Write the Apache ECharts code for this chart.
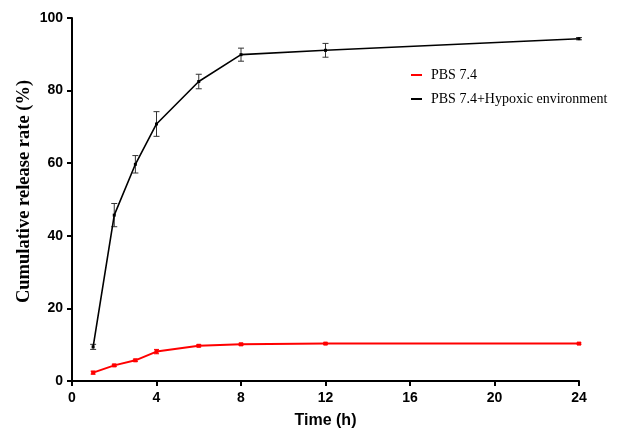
<!DOCTYPE html>
<html>
<head>
<meta charset="utf-8">
<script src="https://cdn.jsdelivr.net/npm/echarts@6/dist/echarts.min.js"></script>
<style>html,body{margin:0;padding:0;background:#fff;}#c{width:621px;height:436px;}</style>
</head>
<body>
<div id="c"></div>
<script>
var times = [1, 2, 3, 4, 6, 8, 12, 24];
var pbsValues = [2.3, 4.3, 5.7, 8.1, 9.7, 10.1, 10.3, 10.3];
var pbsErrors = [0.4, 0.3, 0.3, 0.6, 0.3, 0.3, 0.2, 0.2];
var hypoxValues = [9.4, 45.7, 59.7, 70.8, 82.5, 89.9, 91.1, 94.3];
var hypoxErrors = [0.7, 3.2, 2.4, 3.4, 2.0, 1.8, 1.9, 0.3];
var xTicks = [0, 4, 8, 12, 16, 20, 24];
var yTicks = [0, 20, 40, 60, 80, 100];
var seriesNames = ['PBS 7.4', 'PBS 7.4+Hypoxic environment'];

function pairs(v) { return times.map(function (t, i) { return [t, v[i]]; }); }
function errData(v, e) { return times.map(function (t, i) { return [t, v[i] - e[i], v[i] + e[i]]; }); }
function errSeries(v, e, color, cap) {
  return {
    type: 'custom',
    data: errData(v, e),
    z: 3,
    silent: true,
    renderItem: function (params, api) {
      var x = api.value(0);
      var lo = api.coord([x, api.value(1)]);
      var hi = api.coord([x, api.value(2)]);
      var st = { stroke: color, lineWidth: 1 };
      return {
        type: 'group',
        children: [
          { type: 'line', shape: { x1: lo[0], y1: lo[1], x2: hi[0], y2: hi[1] }, style: st },
          { type: 'line', shape: { x1: lo[0] - cap, y1: lo[1], x2: lo[0] + cap, y2: lo[1] }, style: st },
          { type: 'line', shape: { x1: hi[0] - cap, y1: hi[1], x2: hi[0] + cap, y2: hi[1] }, style: st }
        ]
      };
    }
  };
}

var chart = echarts.init(document.getElementById('c'), null, { renderer: 'canvas' });
chart.setOption({
  animation: false,
  backgroundColor: '#fff',
  grid: { left: 72, right: 42, top: 18, bottom: 55, containLabel: false },
  legend: {
    orient: 'vertical',
    left: 406,
    top: 63,
    itemWidth: 11,
    itemHeight: 2,
    itemGap: 10,
    textStyle: { fontFamily: 'Liberation Serif', fontSize: 14, color: '#000', padding: [0, 0, 0, 4] },
    data: [
      { name: seriesNames[0], icon: 'rect', itemStyle: { color: '#ff0000' } },
      { name: seriesNames[1], icon: 'rect', itemStyle: { color: '#000' } }
    ]
  },
  xAxis: {
    type: 'value',
    min: xTicks[0],
    max: xTicks[xTicks.length - 1],
    interval: 4,
    name: 'Time (h)',
    nameLocation: 'middle',
    nameGap: 32,
    nameMoveOverlap: false,
    nameTextStyle: { fontFamily: 'Liberation Sans', fontWeight: 'bold', fontSize: 16, color: '#000' },
    axisLine: { show: true, lineStyle: { color: '#000', width: 2 } },
    axisTick: { show: true, length: 5, lineStyle: { color: '#000', width: 2 } },
    axisLabel: { fontFamily: 'Liberation Sans', fontWeight: 'bold', fontSize: 14, color: '#000', margin: 10 },
    splitLine: { show: false }
  },
  yAxis: {
    type: 'value',
    min: yTicks[0],
    max: yTicks[yTicks.length - 1],
    interval: 20,
    name: 'Cumulative release rate (%)',
    nameLocation: 'middle',
    nameGap: 38,
    nameMoveOverlap: false,
    nameTextStyle: { fontFamily: 'Liberation Serif', fontWeight: 'bold', fontSize: 18.5, color: '#000', padding: [0, 0, 0, 16] },
    axisLine: { show: true, lineStyle: { color: '#000', width: 2 } },
    axisTick: { show: true, length: 5, lineStyle: { color: '#000', width: 2 } },
    axisLabel: { fontFamily: 'Liberation Sans', fontWeight: 'bold', fontSize: 14, color: '#000', margin: 9 },
    splitLine: { show: false }
  },
  series: [
    {
      name: seriesNames[0],
      type: 'line',
      data: pairs(pbsValues),
      color: '#ff0000',
      lineStyle: { color: '#ff0000', width: 2 },
      symbol: 'rect',
      symbolSize: 4,
      itemStyle: { color: '#ff0000' },
      z: 4
    },
    {
      name: seriesNames[1],
      type: 'line',
      data: pairs(hypoxValues),
      color: '#000',
      lineStyle: { color: '#000', width: 1.6 },
      symbol: 'rect',
      symbolSize: 3,
      itemStyle: { color: '#000' },
      z: 4
    },
    errSeries(pbsValues, pbsErrors, '#ff0000', 2.5),
    errSeries(hypoxValues, hypoxErrors, '#333', 3)
  ]
});
</script>
</body>
</html>
